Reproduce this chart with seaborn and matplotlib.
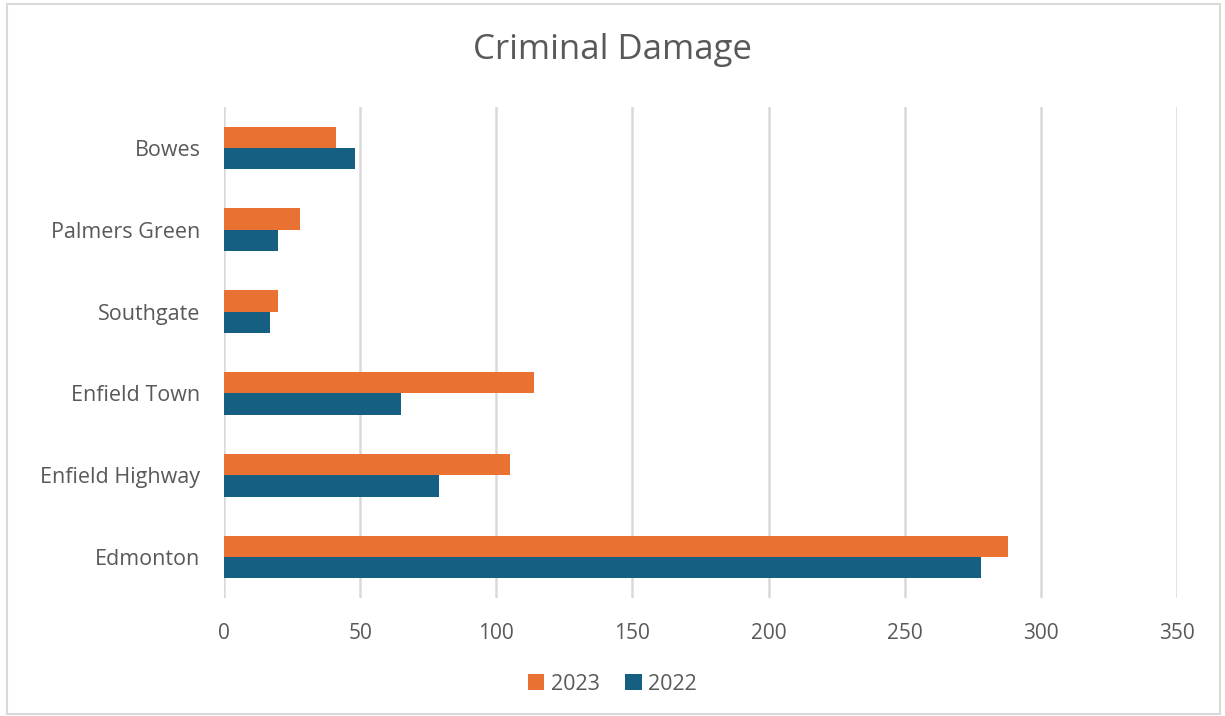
import matplotlib
matplotlib.use("Agg")
import matplotlib.pyplot as plt
from matplotlib.patches import Patch, Rectangle
import pandas as pd
import seaborn as sns

wards = ["Bowes", "Palmers Green", "Southgate", "Enfield Town", "Enfield Highway", "Edmonton"]
counts_2023 = [41, 28, 20, 114, 105, 288]
counts_2022 = [48, 20, 17, 65, 79, 278]
years = ["2023", "2022"]
x_ticks = [0, 50, 100, 150, 200, 250, 300, 350]

colors = {"2023": "#E97132", "2022": "#156082"}
text_color = "#595959"
grid_color = "#D9D9D9"

df = pd.DataFrame({
    "ward": wards * 2,
    "year": ["2023"] * len(wards) + ["2022"] * len(wards),
    "count": counts_2023 + counts_2022,
})

sns.set_theme(style="white")
plt.rcParams["font.family"] = ["Open Sans", "DejaVu Sans"]

fig = plt.figure(figsize=(12.25, 7.16), dpi=100)
ax = fig.add_axes([224 / 1225, 1 - 598 / 716, (1177 - 224) / 1225, (598 - 107) / 716])

sns.barplot(data=df, y="ward", x="count", hue="year", order=wards, hue_order=years,
            palette=colors, orient="h", width=0.52, ax=ax, legend=False,
            saturation=1, linewidth=0)

ax.set_xlim(0, 350)
ax.set_xticks(x_ticks)
ax.set_xlabel("")
ax.set_ylabel("")
ax.xaxis.grid(True, color=grid_color, linewidth=1.8)
ax.set_axisbelow(True)
for s in ax.spines.values():
    s.set_visible(False)
ax.tick_params(axis="x", length=0, pad=18, labelsize=15, labelcolor=text_color)
ax.tick_params(axis="y", length=0, pad=17, labelsize=15.5, labelcolor=text_color)

fig.text(0.5, 1 - 50 / 716, "Criminal Damage", ha="center", va="center",
         fontsize=25, color=text_color)

handles = [Patch(facecolor=colors[y], edgecolor="none", label=y) for y in years]
fig.legend(handles=handles, loc="center", bbox_to_anchor=(0.5, 1 - 684 / 716), ncol=2,
           frameon=False, fontsize=15.5, labelcolor=text_color, handlelength=0.75,
           handleheight=0.75, handletextpad=0.3, columnspacing=1.2)

fig.patches.append(Rectangle((7 / 1225, 2 / 716), 1213 / 1225, 710 / 716,
                             transform=fig.transFigure, fill=False,
                             edgecolor=grid_color, linewidth=1.5))

fig.savefig("out.png", dpi=100, facecolor="white")
